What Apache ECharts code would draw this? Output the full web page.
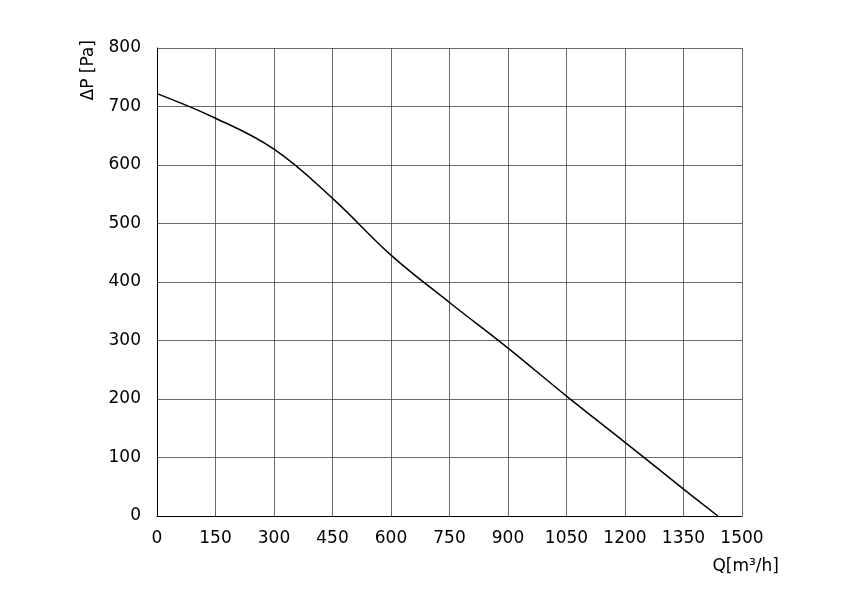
<!DOCTYPE html>
<html><head><meta charset="utf-8">
<script src="https://cdn.jsdelivr.net/npm/echarts@6/dist/echarts.min.js"></script>
<style>html,body{margin:0;background:#fff}#c{width:845px;height:601px}</style>
</head><body><div id="c"></div>
<script>
const flowQ = [0, 150, 300, 450, 600, 750, 900, 1050, 1200, 1350, 1438];
const pressure = [722, 680, 627, 543, 446, 365, 287, 205, 126, 46, 0];
const chart = echarts.init(document.getElementById('c'));
const font = 'DejaVu Sans';
chart.setOption({
  animation:false,
  grid:{left:157,right:103,top:48,bottom:85,outerBoundsMode:'none',containLabel:false},
  graphic:[
    {type:'text',left:80,top:40,rotation:Math.PI/2,originX:0,originY:0,
     style:{text:'ΔP [Pa]',font:'17px DejaVu Sans',fill:'#000'}},
    {type:'text',right:66,top:558,style:{text:'Q[m³/h]',font:'17px DejaVu Sans',fill:'#000'}}
  ],
  xAxis:{type:'value',min:0,max:1500,interval:150,
    axisLine:{lineStyle:{color:'#000'}},axisTick:{show:false},
    axisLabel:{fontFamily:font,fontSize:17,color:'#000',margin:14,formatter:v=>String(v)},
    splitLine:{lineStyle:{color:'#444',width:0.8}}},
  yAxis:{type:'value',min:0,max:800,interval:100,
    axisLine:{show:true,lineStyle:{color:'#000'}},axisTick:{show:false},
    axisLabel:{fontFamily:font,fontSize:17,color:'#000',margin:16,formatter:v=>String(v)},
    splitLine:{lineStyle:{color:'#444',width:0.8}}},
  series:[{type:'line',data:flowQ.map((q,i)=>[q,pressure[i]]),smooth:0.4,symbol:'none',
    lineStyle:{color:'#000',width:1.5}}]
});
</script></body></html>
